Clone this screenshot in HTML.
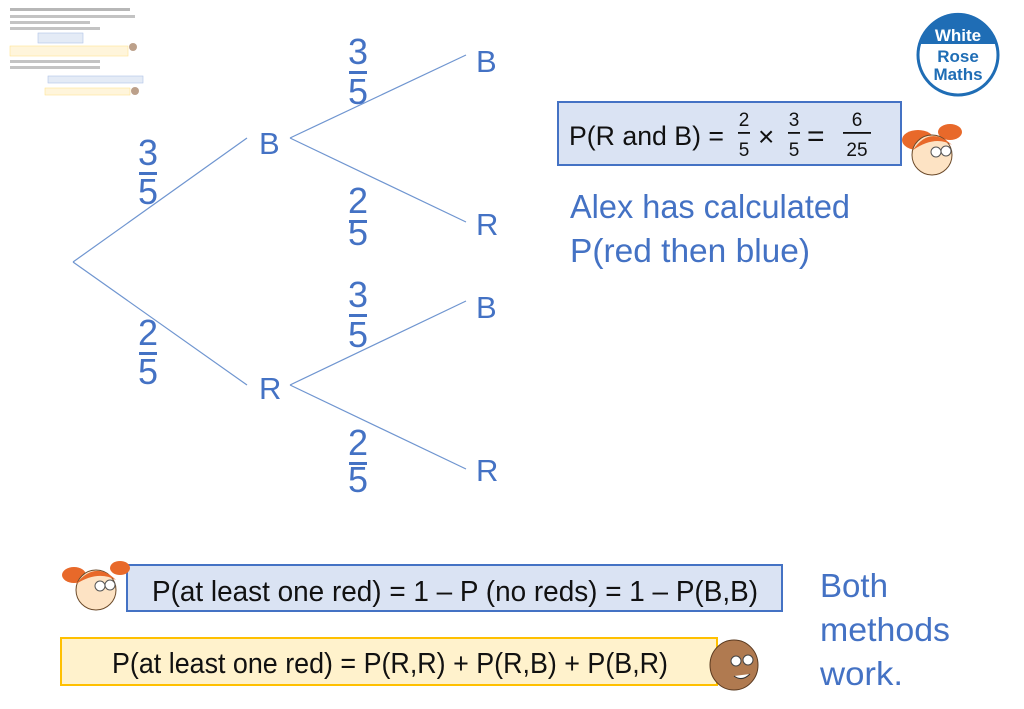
<!DOCTYPE html>
<html><head><meta charset="utf-8"><style>
html,body{margin:0;padding:0;background:#fff;}
svg{display:block;}
text{font-family:"Liberation Sans",sans-serif;}
</style></head><body>
<svg width="1024" height="709" viewBox="0 0 1024 709" xmlns="http://www.w3.org/2000/svg">
<rect width="1024" height="709" fill="#fff"/>
<g opacity="0.7">
<rect x="10" y="8" width="120" height="3" fill="#999"/>
<rect x="10" y="15" width="125" height="3" fill="#aaa"/>
<rect x="10" y="21" width="80" height="3" fill="#aaa"/>
<rect x="10" y="27" width="90" height="3" fill="#aaa"/>
<rect x="38" y="33" width="45" height="10" fill="#dae3f3" stroke="#8faadc" stroke-width="0.6"/>
<rect x="10" y="46" width="118" height="10" fill="#fff2cc" stroke="#ffd966" stroke-width="0.6"/>
<circle cx="133" cy="47" r="4" fill="#a0785a"/>
<rect x="10" y="60" width="90" height="3" fill="#aaa"/>
<rect x="10" y="66" width="90" height="3" fill="#aaa"/>
<rect x="48" y="76" width="95" height="7" fill="#dae3f3" stroke="#8faadc" stroke-width="0.6"/>
<rect x="45" y="88" width="85" height="7" fill="#fff2cc" stroke="#ffd966" stroke-width="0.6"/>
<circle cx="135" cy="91" r="4" fill="#a0785a"/>
</g>
<circle cx="958" cy="55" r="40" fill="#fff" stroke="#1f6db5" stroke-width="3"/>
<path d="M919,44 A40,40 0 0 1 997,44 Z" fill="#1f6db5"/>
<text x="958" y="41" font-size="17" font-weight="bold" fill="#fff" text-anchor="middle">White</text>
<text x="958" y="62" font-size="17" font-weight="bold" fill="#1f6db5" text-anchor="middle">Rose</text>
<text x="958" y="80" font-size="17" font-weight="bold" fill="#1f6db5" text-anchor="middle">Maths</text>
<g stroke="#6f95d0" stroke-width="1.2" fill="none">
<line x1="73" y1="262" x2="247" y2="138"/>
<line x1="73" y1="262" x2="247" y2="385"/>
<line x1="290" y1="138" x2="466" y2="55"/>
<line x1="290" y1="138" x2="466" y2="222"/>
<line x1="290" y1="385" x2="466" y2="301"/>
<line x1="290" y1="385" x2="466" y2="469"/>
</g>
<g fill="#4472c4" font-size="31">
<text x="259" y="154">B</text>
<text x="259" y="399">R</text>
<text x="476" y="72">B</text>
<text x="476" y="235">R</text>
<text x="476" y="318">B</text>
<text x="476" y="481">R</text>
</g>
<g fill="#4472c4" font-size="36" text-anchor="middle">
<text x="358" y="64">3</text><rect x="349" y="71" width="18" height="3"/><text x="358" y="104">5</text>
<text x="148" y="165">3</text><rect x="139" y="172" width="18" height="3"/><text x="148" y="204">5</text>
<text x="358" y="213">2</text><rect x="349" y="220" width="18" height="3"/><text x="358" y="245">5</text>
<text x="148" y="345">2</text><rect x="139" y="352" width="18" height="3"/><text x="148" y="384">5</text>
<text x="358" y="307">3</text><rect x="349" y="314" width="18" height="3"/><text x="358" y="347">5</text>
<text x="358" y="455">2</text><rect x="349" y="462" width="18" height="3"/><text x="358" y="492">5</text>
</g>
<rect x="558" y="102" width="343" height="63" fill="#dae3f3" stroke="#4472c4" stroke-width="2"/>
<text x="569" y="145" font-size="27" fill="#111" textLength="155" lengthAdjust="spacingAndGlyphs">P(R and B) =</text>
<g font-size="19" fill="#111" text-anchor="middle">
<text x="744" y="126">2</text><rect x="738" y="132" width="12" height="1.8"/><text x="744" y="156">5</text>
<text x="794" y="126">3</text><rect x="788" y="132" width="12" height="1.8"/><text x="794" y="156">5</text>
<text x="857" y="126">6</text><rect x="843" y="132" width="28" height="1.8"/><text x="857" y="156">25</text>
</g>
<text x="758" y="146" font-size="28" fill="#111">×</text>
<text x="807" y="146" font-size="30" fill="#111">=</text>
<text x="570" y="218" font-size="33" fill="#4472c4" textLength="280" lengthAdjust="spacingAndGlyphs">Alex has calculated</text>
<text x="570" y="262" font-size="33" fill="#4472c4" textLength="240" lengthAdjust="spacingAndGlyphs">P(red then blue)</text>
<g>
<ellipse cx="918" cy="140" rx="16" ry="10" fill="#e8692a"/>
<ellipse cx="950" cy="132" rx="12" ry="8" fill="#e8692a"/>
<circle cx="932" cy="155" r="20" fill="#fde3c4" stroke="#6b4a2a" stroke-width="1"/>
<path d="M913,150 Q930,125 952,145 Q935,135 913,150Z" fill="#e8692a"/>
<circle cx="936" cy="152" r="5" fill="#fff" stroke="#555"/><circle cx="946" cy="151" r="5" fill="#fff" stroke="#555"/>
</g>
<rect x="127" y="565" width="655" height="46" fill="#dae3f3" stroke="#4472c4" stroke-width="2"/>
<text x="152" y="601" font-size="29" fill="#111" textLength="606" lengthAdjust="spacingAndGlyphs">P(at least one red) =  1 – P (no reds) = 1 – P(B,B)</text>
<rect x="61" y="638" width="656" height="47" fill="#fff2cc" stroke="#ffc000" stroke-width="2"/>
<text x="112" y="673" font-size="29" fill="#111" textLength="556" lengthAdjust="spacingAndGlyphs">P(at least one red) = P(R,R) + P(R,B) + P(B,R)</text>
<g>
<ellipse cx="74" cy="575" rx="12" ry="8" fill="#e8692a"/>
<ellipse cx="120" cy="568" rx="10" ry="7" fill="#e8692a"/>
<circle cx="96" cy="590" r="20" fill="#fde3c4" stroke="#6b4a2a" stroke-width="1"/>
<path d="M76,584 Q95,560 116,580 Q98,570 76,584Z" fill="#e8692a"/>
<circle cx="100" cy="586" r="5" fill="#fff" stroke="#555"/><circle cx="110" cy="585" r="5" fill="#fff" stroke="#555"/>
</g>
<g>
<ellipse cx="734" cy="665" rx="24" ry="25" fill="#b07a50" stroke="#5a3a20" stroke-width="1"/>
<circle cx="736" cy="661" r="5" fill="#fff" stroke="#444"/><circle cx="748" cy="660" r="5" fill="#fff" stroke="#444"/>
<path d="M734,676 Q742,682 750,674" stroke="#333" fill="#fff"/>
</g>
<g fill="#4472c4" font-size="33">
<text x="820" y="597" textLength="68" lengthAdjust="spacingAndGlyphs">Both</text>
<text x="820" y="641" textLength="130" lengthAdjust="spacingAndGlyphs">methods</text>
<text x="820" y="685" textLength="83" lengthAdjust="spacingAndGlyphs">work.</text>
</g>
</svg>
</body></html>
